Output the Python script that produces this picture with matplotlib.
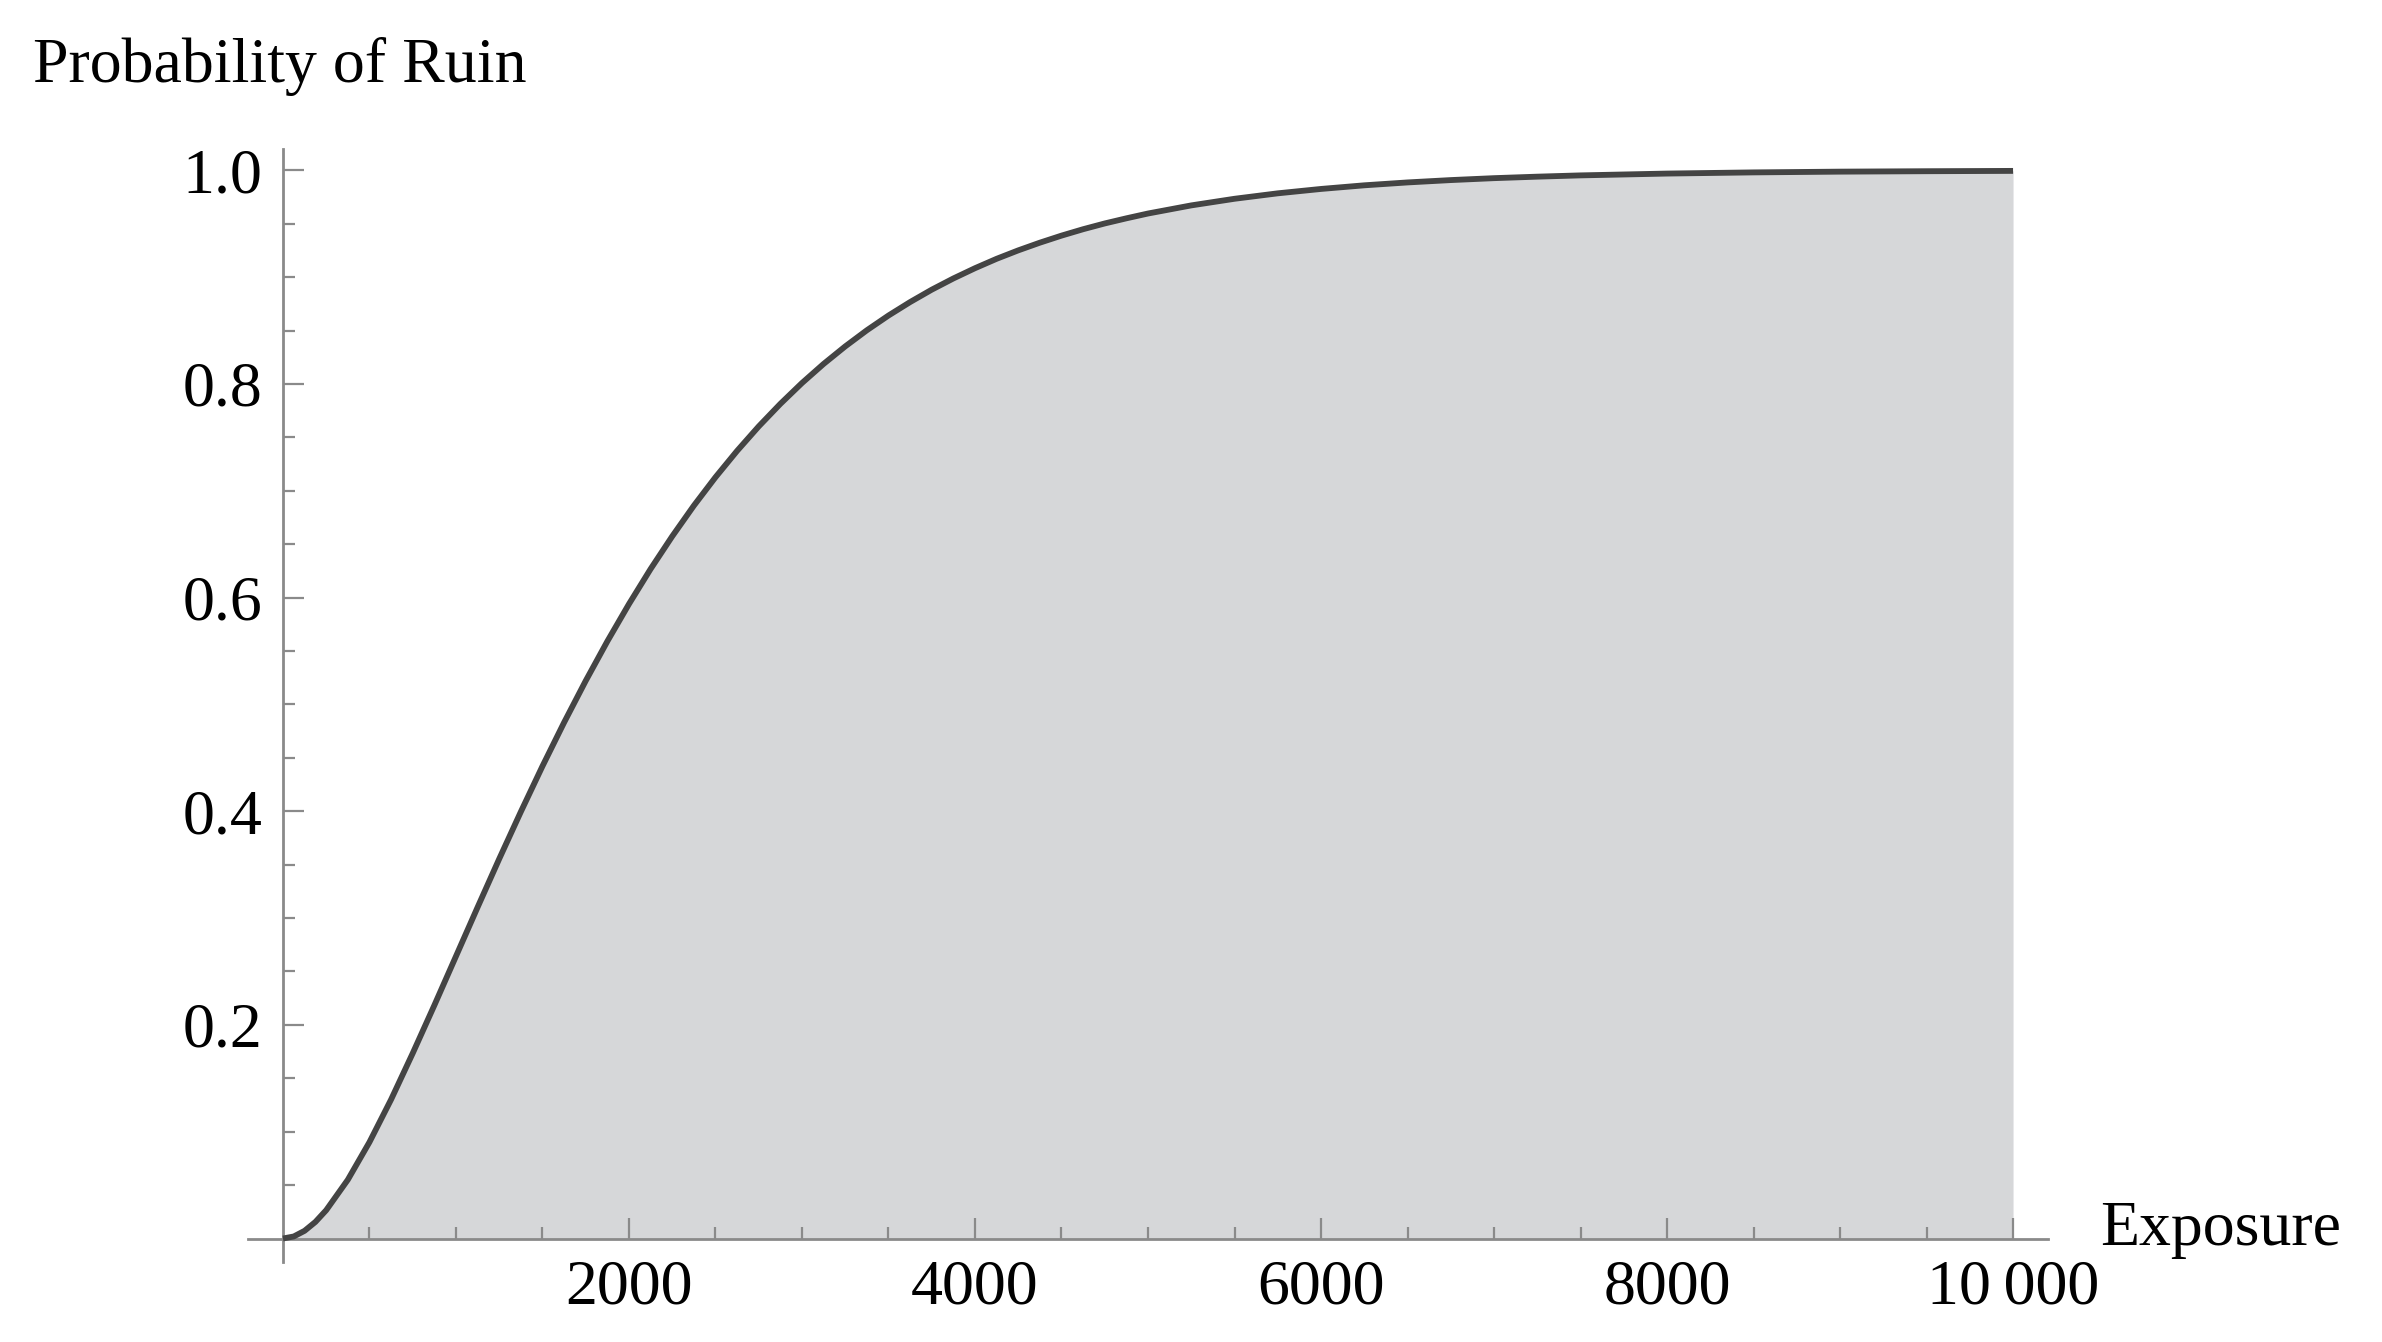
import matplotlib
matplotlib.use("Agg")
import matplotlib.pyplot as plt

# ---- data ----
exposure = [0, 62.5, 125, 187.5, 250, 375, 500, 625, 750, 875, 1000, 1125, 1250,
            1375, 1500, 1625, 1750, 1875, 2000, 2125, 2250, 2375, 2500, 2625,
            2750, 2875, 3000, 3125, 3250, 3375, 3500, 3625, 3750, 3875, 4000,
            4125, 4250, 4375, 4500, 4625, 4750, 4875, 5000, 5250, 5500, 5750,
            6000, 6250, 6500, 6750, 7000, 7250, 7500, 8000, 8500, 9000, 9500,
            10000]
ruin_prob = [0.0, 0.0019, 0.0072, 0.0155, 0.0265, 0.0550, 0.0902, 0.1301, 0.1734,
             0.2183, 0.2642, 0.3101, 0.3554, 0.3995, 0.4422, 0.4831, 0.5221,
             0.5591, 0.5940, 0.6268, 0.6574, 0.6861, 0.7127, 0.7374, 0.7603,
             0.7814, 0.8009, 0.8188, 0.8352, 0.8503, 0.8641, 0.8767, 0.8883,
             0.8988, 0.9084, 0.9172, 0.9251, 0.9323, 0.9389, 0.9449, 0.9503,
             0.9551, 0.9596, 0.9672, 0.9734, 0.9785, 0.9826, 0.9860, 0.9887,
             0.9909, 0.9927, 0.9941, 0.9953, 0.9970, 0.9981, 0.9988, 0.9992,
             0.9995]

x_major_ticks = [2000, 4000, 6000, 8000, 10000]
x_major_labels = ["2000", "4000", "6000", "8000", "10\u2009000"]
x_minor_ticks = [500, 1000, 1500, 2500, 3000, 3500, 4500, 5000, 5500,
                 6500, 7000, 7500, 8500, 9000, 9500]
y_major_ticks = [0.2, 0.4, 0.6, 0.8, 1.0]
y_major_labels = ["0.2", "0.4", "0.6", "0.8", "1.0"]
y_minor_ticks = [0.05, 0.1, 0.15, 0.25, 0.3, 0.35, 0.45, 0.5, 0.55,
                 0.65, 0.7, 0.75, 0.85, 0.9, 0.95]

title_text = "Probability of Ruin"
xlabel_text = "Exposure"

# ---- figure ----
W, H = 2382, 1342
DPI = 100
plt.rcParams['font.family'] = ['Liberation Serif', 'DejaVu Serif']
fig = plt.figure(figsize=(W / DPI, H / DPI), dpi=DPI)
fig.patch.set_facecolor("white")

left_px, right_px, top_px, bottom_px = 248, 2048, 149, 1262
ax = fig.add_axes([left_px / W, (H - bottom_px) / H,
                   (right_px - left_px) / W, (bottom_px - top_px) / H])
ax.set_xlim(-202, 10202)
ax.set_ylim(-0.022, 1.02)
ax.set_facecolor("none")

ax.fill_between(exposure, 0, ruin_prob, color="#d6d7d9", lw=0, zorder=1)
ax.plot(exposure, ruin_prob, color="#444444", lw=4.2, solid_capstyle="butt",
        solid_joinstyle="round", zorder=3)

axis_col = "#8a8a8a"
for s in ("top", "right"):
    ax.spines[s].set_visible(False)
ax.spines["left"].set_position(("data", 0))
ax.spines["bottom"].set_position(("data", 0))
for s in ("left", "bottom"):
    ax.spines[s].set_color(axis_col)
    ax.spines[s].set_linewidth(2.0)
    ax.spines[s].set_zorder(2.5)

ax.set_xticks(x_major_ticks)
ax.set_xticklabels(x_major_labels)
ax.set_xticks(x_minor_ticks, minor=True)
ax.set_yticks(y_major_ticks)
ax.set_yticklabels(y_major_labels)
ax.set_yticks(y_minor_ticks, minor=True)

ax.tick_params(axis="both", which="major", direction="in", length=15,
               width=1.6, color=axis_col, labelsize=46, labelcolor="black")
ax.tick_params(axis="both", which="minor", direction="in", length=8.5,
               width=1.6, color=axis_col)
ax.tick_params(axis="x", which="major", pad=15)
ax.tick_params(axis="y", which="major", pad=15)

fig.text(33 / W, (H - 82) / H, title_text, fontsize=46, ha="left",
         va="baseline", color="black")
fig.text(2100 / W, (H - 1245) / H, xlabel_text, fontsize=46, ha="left",
         va="baseline", color="black")

fig.savefig("out.png", dpi=DPI, facecolor="white")
